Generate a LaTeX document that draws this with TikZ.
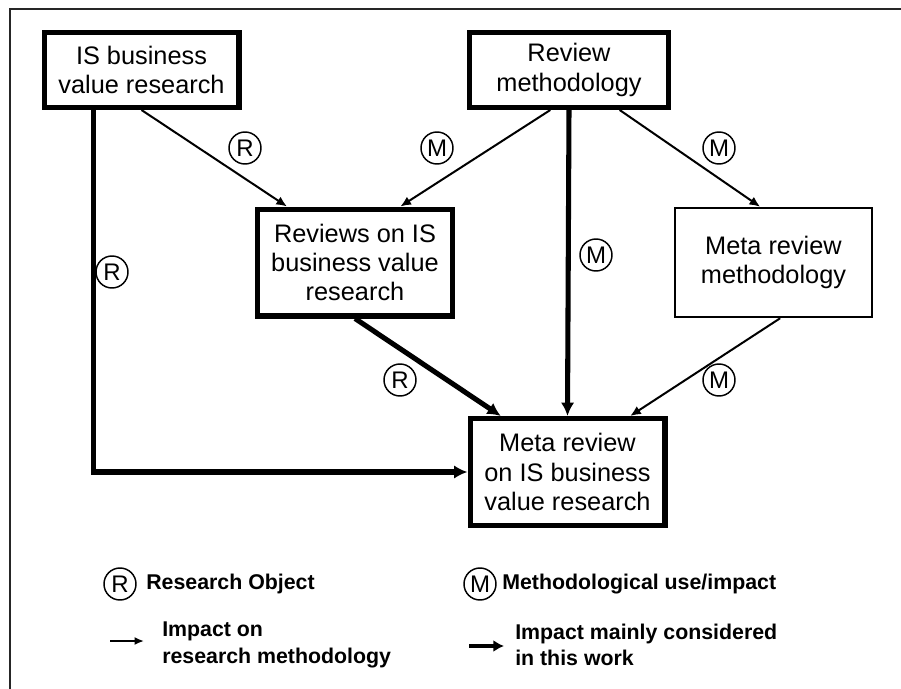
\documentclass[tikz,border=0pt]{standalone}
\usepackage{fontspec}
\setmainfont{Liberation Sans}
\usepackage{tikz}
\usetikzlibrary{arrows.meta,calc}
\usetikzlibrary{positioning,shapes,arrows}

\begin{document}
\begin{tikzpicture}[x=0.75pt,y=-0.75pt,
    box/.style={draw, line width=4pt, align=center, inner sep=0pt,
        minimum width=146pt, font=\fontsize{19}{22}\selectfont},
    thinbox/.style={box, line width=1.6pt},
    tag/.style={circle, draw, line width=1.1pt, inner sep=0pt, minimum size=24pt,
        font=\fontsize{18}{18}\selectfont},
    legend/.style={align=left, inner sep=0pt, font=\bfseries\fontsize{16}{20}\selectfont},
    impact/.style={-{Latex[length=8pt,width=7pt]}, line width=1.5pt},
    mainimpact/.style={-{Latex[length=10pt,width=10pt]}, line width=3.8pt}]
    \useasboundingbox (0,0) rectangle (901,689);
    \draw[line width=2.2pt, black!85] (901,9) -- (10,9) -- (10,689);

    % Boxes
    \node[box, minimum height=56pt] (isbv) at (141.5,70) {IS business\\value research};
    \node[box, minimum width=149pt, minimum height=56pt] (revm) at (569,70) {Review\\methodology};
    \node[box, minimum height=80pt] (rev) at (355,262.5) {Reviews on IS\\business value\\research};
    \node[thinbox, minimum width=148pt, minimum height=82pt] (metam) at (773.5,262.5) {Meta review\\methodology};
    \node[box, minimum height=80pt] (meta) at (567.5,472) {Meta review\\on IS business\\value research};

    % Impacts
    \draw[impact] (isbv.south) -- ([xshift=-51pt]rev.north);
    \draw[impact] ([xshift=-14pt]revm.south) -- ([xshift=34pt]rev.north);
    \draw[impact] ([xshift=38pt]revm.south) -- ([xshift=-10pt]metam.north);
    \draw[impact] ([xshift=5pt]metam.south) -- ([xshift=47pt]meta.north);
    \draw[mainimpact] ([xshift=-36pt]isbv.south) |- (meta.west);
    \draw[mainimpact] (revm.south) -- (meta.north);
    \draw[mainimpact] (rev.south) -- ([xshift=-50pt]meta.north);

    % Tags
    \node[tag] (t1) at (245,148) {R};
    \node[tag] (t2) at (437,148) {M};
    \node[tag] (t3) at (719,148) {M};
    \node[tag] (t4) at (112,272) {R};
    \node[tag] (t5) at (596,255) {M};
    \node[tag] (t6) at (400,380) {R};
    \node[tag] (t7) at (719,380) {M};

    % Legend
    \node[tag] (lr) at (120,584) {R};
    \node[legend, right=7pt of lr] (lrtext) {Research Object};
    \node[tag] (lm) at (480,584) {M};
    \node[legend, right=4pt of lm] (lmtext) {Methodological use/impact};
    \coordinate (a1) at (110,641);
    \coordinate (a2) at (144,641);
    \draw[impact, line width=1.6pt, -{Latex[length=7pt,width=6pt]}] (a1) -- (a2);
    \node[legend, anchor=west] (atext) at (162,645) {Impact on\\research methodology};
    \coordinate (b1) at (469,646);
    \coordinate (b2) at (504,646);
    \draw[mainimpact, line width=3.2pt, -{Latex[length=8pt,width=9pt]}] (b1) -- (b2);
    \node[legend, anchor=west] (btext) at (515,645) {Impact mainly considered\\in this work};
\end{tikzpicture}
\end{document}
